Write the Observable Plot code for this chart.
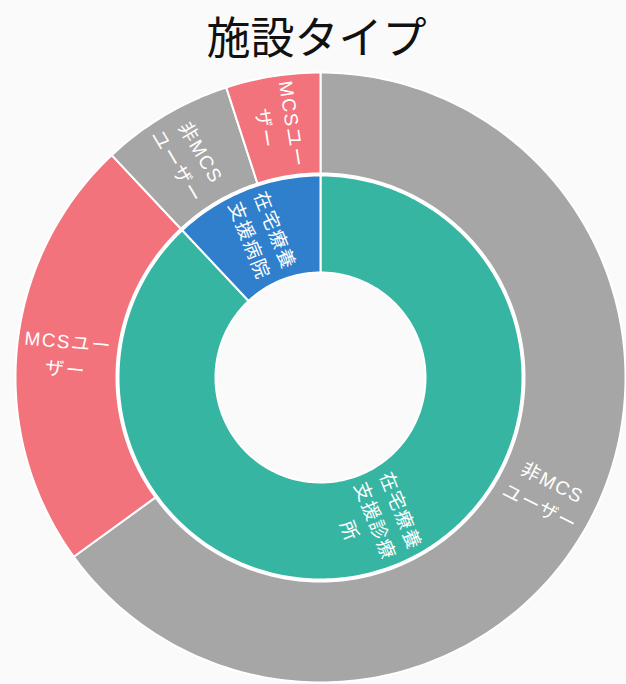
<!DOCTYPE html>
<html>
<head>
<meta charset="utf-8">
<script src="https://cdn.jsdelivr.net/npm/d3@7"></script>
<script src="https://cdn.jsdelivr.net/npm/@observablehq/plot@0.6"></script>
<style>
  html, body { margin: 0; padding: 0; background: #fafafa; }
  #title { height: 70px; line-height: 70px; text-align: center; font-family: "Noto Sans CJK JP", sans-serif; font-size: 44px; color: #111; padding-left: 7px; box-sizing: border-box; width: 626px; }
  .lbl text { letter-spacing: 1.5px; }
</style>
</head>
<body>
<div id="title">施設タイプ</div>
<div id="chart"></div>
<script>
// ---- data ----
const facilities = ["在宅療養支援診療所", "在宅療養支援病院"];
const facilityLabels = ["在宅療養\n支援診療\n所", "在宅療養\n支援病院"];
const facilityColors = ["#37b5a3", "#2f7fcd"];
const userTypes = ["非MCSユーザー", "MCSユーザー"];
const userLabels = ["非MCS\nユーザー", "MCSユー\nザー"];
const userColors = ["#a6a6a6", "#f2737b"];
// counts[facility][userType]
const counts = [
  [130, 46],
  [14, 10]
];

// ---- layout constants ----
const W = 626, H = 614;
const R0 = 105, R1 = 202, R2 = 204, R3 = 305;

const total = d3.sum(counts.flat());
const toDeg = v => v / total * 360;

// build segments
const segments = [];
let acc = 0;
facilities.forEach((f, i) => {
  const v = d3.sum(counts[i]);
  segments.push({id: "in-" + i, a0: toDeg(acc), a1: toDeg(acc + v), r0: R0, r1: R1,
    color: facilityColors[i], label: facilityLabels[i]});
  let acc2 = acc;
  userTypes.forEach((u, j) => {
    const w = counts[i][j];
    segments.push({id: "out-" + i + "-" + j, a0: toDeg(acc2), a1: toDeg(acc2 + w), r0: R2, r1: R3,
      color: userColors[j], label: userLabels[j]});
    acc2 += w;
  });
  acc += v;
});

const rad = a => a * Math.PI / 180;
const pt = (a, r) => ({x: r * Math.sin(rad(a)), y: r * Math.cos(rad(a))});

const polys = [];
for (const s of segments) {
  const n = Math.max(4, Math.ceil(s.a1 - s.a0));
  const pts = [];
  for (let k = 0; k <= n; k++) pts.push(pt(s.a0 + (s.a1 - s.a0) * k / n, s.r1));
  for (let k = n; k >= 0; k--) pts.push(pt(s.a0 + (s.a1 - s.a0) * k / n, s.r0));
  pts.push(pts[0]);
  for (const p of pts) polys.push({id: s.id, color: s.color, x: p.x, y: p.y});
}

const labels = segments.map(s => {
  const am = (s.a0 + s.a1) / 2;
  const rm = (s.r0 + s.r1) / 2;
  const p = pt(am, rm);
  const rot = am < 180 ? am - 90 : am - 270;
  return {x: p.x, y: p.y, rot, text: s.label};
});

const chart = Plot.plot({
  width: W,
  height: H,
  margin: 0,
  style: {background: "transparent"},
  x: {domain: [-320, 306], axis: null},
  y: {domain: [-307, 307], axis: null},
  color: {type: "identity"},
  marks: [
    Plot.line(polys, {x: "x", y: "y", z: "id", fill: "color", stroke: "white", strokeWidth: 2, curve: "linear"}),
    Plot.text(labels, {x: "x", y: "y", text: "text", rotate: "rot", fill: "white",
      fontSize: 19, lineHeight: 1.45, fontFamily: "'Liberation Sans', 'Noto Sans CJK JP', sans-serif", className: "lbl"})
  ]
});
document.getElementById("chart").appendChild(chart);
</script>
</body>
</html>
